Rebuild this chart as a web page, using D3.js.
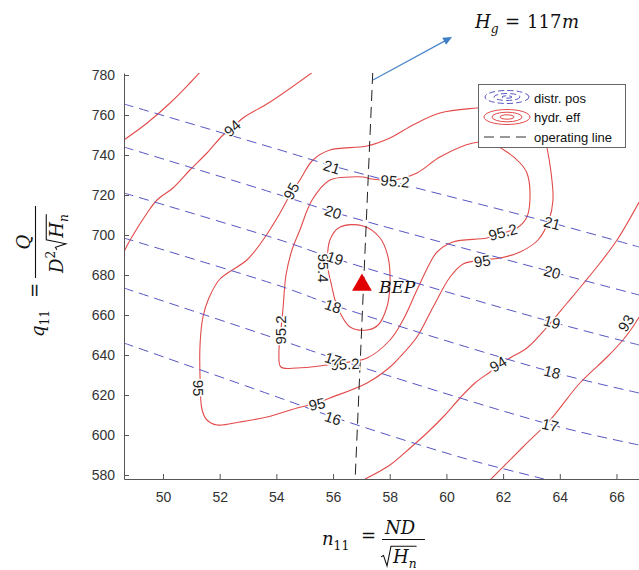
<!DOCTYPE html>
<html>
<head>
<meta charset="utf-8">
<script src="https://cdn.jsdelivr.net/npm/d3@7/dist/d3.min.js"></script>
<style>
  body { margin: 0; background: #fff; }
  svg { display: block; }
</style>
</head>
<body>
<svg id="chart" width="639" height="570"></svg>
<script>
// ---- axis ticks ----
const xTicks = [50, 52, 54, 56, 58, 60, 62, 64, 66];
const yTicks = [580, 600, 620, 640, 660, 680, 700, 720, 740, 760, 780];

// ---- distributor opening iso-lines, points as [n11, q11] ----
const distr21 = [[48.62, 765.5], [54.13, 742.5], [56.00, 734.5], [63.73, 706], [66.80, 694]];
const distr20 = [[48.62, 744], [54.13, 720], [56.00, 711.5], [63.73, 681.5], [66.80, 670]];
const distr19 = [[48.62, 721], [54.13, 697.5], [56.00, 688.5], [63.73, 656.5], [66.80, 645]];
const distr18 = [[48.62, 698.5], [54.13, 674.5], [56.00, 665], [63.73, 631.5], [66.80, 621]];
const distr17 = [[48.62, 673.5], [54.13, 647.5], [56.00, 638.5], [63.73, 605], [66.80, 595]];
const distr16 = [[48.62, 646], [54.13, 618.5], [56.00, 609], [60.59, 588.5], [63.30, 578.5], [64.5, 574]];

// ---- hydraulic efficiency contours (%) ----
const eff93Left = [[48.62, 747.5], [49.44, 756], [50.25, 766], [50.95, 776], [51.31, 781.5]];
const eff94Left = [[48.62, 691.5], [48.84, 697.5], [49.44, 711], [49.79, 717.5], [50.35, 723.5], [50.95, 732.5],
                   [51.55, 741], [52.12, 750], [52.44, 753.5], [52.82, 758.5], [53.78, 766.5], [55.29, 781.5]];
const eff94Right = [[57.13, 578], [58.01, 585], [58.72, 593.5], [59.35, 601.5], [59.95, 610], [60.48, 618.5],
                    [61.01, 626], [61.54, 631.5], [61.82, 634.5], [62.24, 638.5], [62.84, 643.5], [63.55, 654],
                    [64.26, 666], [64.82, 675.5], [65.42, 686], [66.02, 697.5], [66.80, 716.5]];
const eff93Right = [[61.54, 577.5], [62.70, 594], [63.66, 607.5], [64.71, 626], [65.67, 639], [66.23, 647.5],
                    [66.55, 653.5], [66.80, 659]];
const eff95 = [[51.91, 605], [51.55, 607.5], [51.38, 612.5], [51.31, 627.5], [51.31, 646], [51.41, 659],
               [51.62, 668.5], [52.01, 678], [52.96, 687.5], [53.53, 697.5], [54.13, 711], [54.48, 720],
               [54.83, 727.5], [55.29, 737.5], [55.89, 742.5], [57.20, 744.5], [58.01, 748.5], [58.82, 755],
               [59.77, 761], [61.08, 763.5], [62.24, 764.5], [63.02, 760], [63.41, 751.5], [63.55, 743.5],
               [63.69, 731.5], [63.76, 717.5], [63.62, 707.5], [63.23, 697.5], [62.60, 691.5], [61.89, 688.5],
               [61.26, 687.5], [60.59, 685.5], [60.13, 679], [59.53, 664], [58.96, 649], [58.36, 639],
               [58.01, 634], [57.20, 626], [55.89, 618.5], [55.43, 616], [54.73, 613.5], [53.67, 609], [52.72, 606.5]];
const eff952 = [[57.06, 729], [57.37, 728], [58.12, 727.5], [58.96, 731], [59.77, 739], [60.94, 746],
                [61.54, 746], [62.14, 741.5], [62.60, 736], [62.84, 731], [62.95, 721], [62.84, 709],
                [62.49, 703.5], [61.99, 701], [61.43, 698.5], [60.23, 696.5], [59.67, 691.5], [59.42, 686],
                [58.96, 672.5], [58.47, 657.5], [58.01, 647.5], [57.20, 638.5], [56.32, 636], [55.79, 635],
                [54.73, 633.5], [54.16, 634], [54.09, 641], [54.16, 652.5], [54.23, 662.5], [54.34, 680],
                [54.55, 692.5], [54.83, 702.5], [55.26, 717.5], [55.89, 727.5], [56.60, 729]];
const eff954 = [[56.25, 704], [57.06, 704.5], [57.66, 698.5], [57.94, 689], [58.01, 676], [57.90, 664],
                [57.59, 655], [57.20, 652.5], [56.60, 654], [56.25, 661], [56.07, 667.5], [55.96, 674],
                [55.82, 684], [55.89, 697.5]];

// ---- contour labels ----
const distrLabelText = ['21', '20', '19', '18', '17', '16', '21', '20', '19', '18', '17'];
const distrLabelN = [55.96, 56.00, 56.07, 56.00, 56.00, 56.00, 63.73, 63.73, 63.73, 63.73, 63.66];
const distrLabelQ = [734, 711.5, 688.5, 664.5, 638, 608.5, 706, 681.5, 656.5, 631.5, 605];
const effLabelText = ['94', '95', '95.2', '95.2', '95', '95.4', '95.2', '95', '95', '95.2', '94', '93'];
const effLabelN = [52.44, 54.52, 58.19, 61.99, 61.26, 55.68, 54.16, 51.25, 55.43, 56.42, 61.82, 66.33];
const effLabelQ = [753.5, 722, 727, 701.5, 687, 683.5, 652.5, 623.5, 615.5, 635.5, 635.5, 656];

// ---- operating line, best efficiency point, head arrow ----
const opN = [57.40, 56.78];
const opQ = [781, 578];
const bepN = 57.02, bepQ = 675;
const arrowN = [57.41, 60.20];
const arrowQ = [777.5, 799];

// ---- layout ----
const svg = d3.select('#chart');
const plotL = 124, plotR = 639, plotT = 73, plotB = 479;
const x = d3.scaleLinear().domain([48.624, 66.795]).range([plotL, plotR]);
const y = d3.scaleLinear().domain([578, 781]).range([plotB, plotT]);

const RED = '#e24a4a', BLUE = '#5656c2', AXIS = '#555';
const SANS = '"Liberation Sans", Arial, Helvetica, sans-serif';
const SERIF = '"DejaVu Serif", "Liberation Serif", serif';

svg.append('defs').append('clipPath').attr('id', 'plotClip')
  .append('rect').attr('x', plotL).attr('y', plotT).attr('width', plotR - plotL).attr('height', plotB - plotT);

const plot = svg.append('g').attr('clip-path', 'url(#plotClip)');

const openLine = d3.line().x(d => x(d[0])).y(d => y(d[1])).curve(d3.curveCatmullRom.alpha(0.5));
const closedLine = d3.line().x(d => x(d[0])).y(d => y(d[1])).curve(d3.curveCatmullRomClosed.alpha(0.5));

// efficiency contours
[eff93Left, eff94Left, eff94Right, eff93Right].forEach(pts => {
  plot.append('path').attr('d', openLine(pts)).attr('fill', 'none')
    .attr('stroke', RED).attr('stroke-width', 1.1);
});
[eff95, eff952, eff954].forEach(pts => {
  plot.append('path').attr('d', closedLine(pts)).attr('fill', 'none')
    .attr('stroke', RED).attr('stroke-width', 1.1);
});

// distributor opening lines
[distr21, distr20, distr19, distr18, distr17, distr16].forEach(pts => {
  plot.append('path').attr('d', openLine(pts)).attr('fill', 'none')
    .attr('stroke', BLUE).attr('stroke-width', 1).attr('stroke-dasharray', '10,6');
});

// operating line
plot.append('line')
  .attr('x1', x(opN[0])).attr('y1', y(opQ[0]))
  .attr('x2', x(opN[1])).attr('y2', y(opQ[1]))
  .attr('stroke', '#222').attr('stroke-width', 1).attr('stroke-dasharray', '11,6');

// contour labels (white halo breaks the lines behind the text)
const distrAngles = [17, 17, 18, 18, 18, 18, 15, 15, 16, 14, 13];
const effAngles = [-42, -62, 5, -15, -8, 90, -90, 90, -12, -3, -32, -58];
function drawLabels(texts, ns, qs, angles) {
  texts.forEach((t, i) => {
    plot.append('text')
      .attr('transform', `translate(${x(ns[i])},${y(qs[i])}) rotate(${angles[i]})`)
      .attr('text-anchor', 'middle').attr('dominant-baseline', 'central')
      .attr('font-family', SANS).attr('font-size', 15).attr('fill', '#1e1e1e')
      .attr('stroke', '#fff').attr('stroke-width', 3).attr('paint-order', 'stroke')
      .text(t);
  });
}
drawLabels(effLabelText, effLabelN, effLabelQ, effAngles);
drawLabels(distrLabelText, distrLabelN, distrLabelQ, distrAngles);

// axes
const xAxis = d3.axisBottom(x).tickValues(xTicks).tickSize(-5).tickSizeOuter(0).tickPadding(13);
const yAxis = d3.axisLeft(y).tickValues(yTicks).tickSize(-5).tickSizeOuter(0).tickPadding(9);
const gx = svg.append('g').attr('transform', `translate(0,${plotB})`).call(xAxis);
const gy = svg.append('g').attr('transform', `translate(${plotL},0)`).call(yAxis);
[gx, gy].forEach(g => {
  g.selectAll('path, line').attr('stroke', AXIS).attr('stroke-width', 1);
  g.selectAll('text').attr('font-family', SANS).attr('font-size', 14).attr('fill', '#333');
});

// best efficiency point
const bx = x(bepN), by = y(bepQ);
svg.append('path')
  .attr('d', d3.symbol().type(d3.symbolTriangle).size(170)())
  .attr('transform', `translate(${bx},${by})`)
  .attr('fill', '#e00000');
svg.append('text').attr('x', bx + 17).attr('y', by + 8)
  .attr('font-family', SERIF).attr('font-style', 'italic').attr('font-size', 17).attr('fill', '#111')
  .text('BEP');

// head direction arrow
const ax1 = x(arrowN[0]), ay1 = y(arrowQ[0]), ax2 = x(arrowN[1]), ay2 = y(arrowQ[1]);
const ang = Math.atan2(ay2 - ay1, ax2 - ax1);
svg.append('line').attr('x1', ax1).attr('y1', ay1)
  .attr('x2', ax2 - 6 * Math.cos(ang)).attr('y2', ay2 - 6 * Math.sin(ang))
  .attr('stroke', '#4a86c8').attr('stroke-width', 1.2);
svg.append('path')
  .attr('d', 'M0,0 L-9,-4 L-9,4 Z')
  .attr('transform', `translate(${ax2},${ay2}) rotate(${ang * 180 / Math.PI})`)
  .attr('fill', '#3f7fc6');

// math-style text: each run placed at x (or after the previous run)
const MATH = 18;
function runs(g, x0, yb, parts) {
  let cx = x0;
  parts.forEach(p => {
    const small = p.sub || p.sup;
    const fs = small ? MATH * 0.68 : MATH;
    const dy = p.sub ? MATH * 0.3 : p.sup ? -MATH * 0.42 : 0;
    if (p.x !== undefined) cx = p.x;
    const el = g.append('text').attr('x', cx).attr('y', yb + dy)
      .attr('font-family', SERIF).attr('font-size', fs)
      .attr('font-style', p.it ? 'italic' : 'normal').attr('fill', '#111').text(p.t);
    cx += el.node().getComputedTextLength() + (p.after || 0);
  });
  return cx;
}
function radical(g, x0, yb, innerWidth) {
  const top = yb - MATH * 0.93;
  g.append('path')
    .attr('d', `M${x0},${yb - MATH * 0.34} L${x0 + 2.5},${yb - MATH * 0.42} L${x0 + 6},${yb + MATH * 0.16} ` +
               `L${x0 + 10},${top} L${x0 + 12 + innerWidth},${top}`)
    .attr('fill', 'none').attr('stroke', '#111').attr('stroke-width', 1.1);
  return x0 + 11;
}

// H_g = 117m
runs(svg, 475, 28, [
  { t: 'H', it: true }, { t: 'g', it: true, sub: true },
  { t: '=', x: 505 }, { t: '117', x: 527 }, { t: 'm', it: true, x: 562 }
]);

// x-axis label: n11 = ND / sqrt(Hn)
const xl = svg.append('g');
runs(xl, 322, 545, [{ t: 'n', it: true }, { t: '11', sub: true }]);
runs(xl, 361, 542, [{ t: '=' }]);
runs(xl, 385, 534, [{ t: 'N', it: true }, { t: 'D', it: true }]);
xl.append('line').attr('x1', 382).attr('x2', 425).attr('y1', 539.5).attr('y2', 539.5)
  .attr('stroke', '#111').attr('stroke-width', 1.1);
const hnX = xl.append('g');
const hnXW = runs(hnX, 0, 0, [{ t: 'H', it: true }, { t: 'n', it: true, sub: true }]);
const hx = radical(xl, 381, 563, hnXW);
hnX.attr('transform', `translate(${hx + 1},563)`);

// y-axis label: q11 = Q / (D^2 sqrt(Hn)), rotated to read upward
const yl = svg.append('g').attr('transform', 'translate(35,260) rotate(-90)');
runs(yl, -77, 9, [{ t: 'q', it: true }, { t: '11', sub: true }]);
runs(yl, -38, 6, [{ t: '=' }]);
yl.append('line').attr('x1', -18).attr('x2', 54).attr('y1', 0.5).attr('y2', 0.5)
  .attr('stroke', '#111').attr('stroke-width', 1.1);
const qNum = yl.append('text').attr('y', -5).attr('font-family', SERIF).attr('font-size', MATH)
  .attr('font-style', 'italic').attr('fill', '#111').text('Q');
qNum.attr('x', 18 - qNum.node().getComputedTextLength() / 2);
const den = yl.append('g').attr('transform', 'translate(-13,28)');
const dEnd = runs(den, 0, 0, [{ t: 'D', it: true }, { t: '2', sup: true, after: 1 }]);
const hnG = den.append('g');
const hnW = runs(hnG, 0, 0, [{ t: 'H', it: true }, { t: 'n', it: true, sub: true }]);
const hx2 = radical(den, dEnd, 0, hnW);
hnG.attr('transform', `translate(${hx2 + 1},0)`);

// legend
const lg = svg.append('g');
lg.append('rect').attr('x', 478.5).attr('y', 84.5).attr('width', 147).attr('height', 63)
  .attr('fill', '#fff').attr('stroke', '#666').attr('stroke-width', 1);
[[22, 6.5], [13, 3.5], [5, 1.2]].forEach(([a, b]) => {
  lg.append('ellipse').attr('cx', 507).attr('cy', 97).attr('rx', a).attr('ry', b)
    .attr('fill', 'none').attr('stroke', BLUE).attr('stroke-width', 1).attr('stroke-dasharray', '6,3');
});
[[23, 7.5], [15, 4.8], [7, 2.2]].forEach(([a, b]) => {
  lg.append('ellipse').attr('cx', 507).attr('cy', 117).attr('rx', a).attr('ry', b)
    .attr('fill', 'none').attr('stroke', RED).attr('stroke-width', 1);
});
lg.append('line').attr('x1', 484).attr('x2', 531).attr('y1', 137).attr('y2', 137)
  .attr('stroke', '#333').attr('stroke-width', 1).attr('stroke-dasharray', '10,6');
['distr. pos', 'hydr. eff', 'operating line'].forEach((t, i) => {
  lg.append('text').attr('x', 534).attr('y', 98 + i * 19.5).attr('dominant-baseline', 'central')
    .attr('font-family', SANS).attr('font-size', 13).attr('fill', '#111').text(t);
});
</script>
</body>
</html>
